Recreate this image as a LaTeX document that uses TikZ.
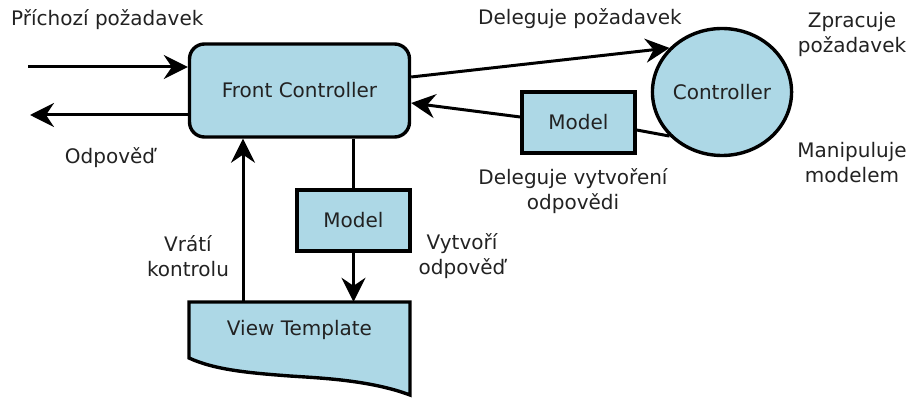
\documentclass[tikz,border=0pt]{standalone}
\usepackage{fontspec}
\setmainfont{DejaVu Sans}
\usetikzlibrary{arrows.meta,shapes.geometric}
\definecolor{boxfill}{HTML}{ADD8E6}
\definecolor{txt}{HTML}{222222}
\tikzset{
  every node/.style={font=\fontsize{20}{25}\selectfont, text=txt},
  box/.style={draw=black, line width=3.4pt, fill=boxfill, inner sep=0pt},
  lbl/.style={align=center, inner sep=0pt},
  arr/.style={line width=3pt, -{Stealth[length=24pt,width=24pt,inset=8pt]}},
  ln/.style={line width=3pt},
}
\begin{document}
\begin{tikzpicture}[x=1pt,y=-1pt]
\useasboundingbox (0,0) rectangle (910,398);
% nodes
\node[box, rounded corners=15pt, minimum width=220pt, minimum height=93pt] (fc) at (299.5,90.5) {Front Controller};
\node[box, ellipse, minimum width=137pt, minimum height=127pt] (ctrl) at (722,92) {Controller};
\node[box, minimum width=113pt, minimum height=61pt] (m1) at (578.5,122.5) {Model};
\node[box, minimum width=113pt, minimum height=61pt] (m2) at (353.5,220.5) {Model};
% view template shape
\draw[line width=3.4pt, fill=boxfill, line join=miter]
  (189,302) -- (410,302) -- (410,395)
  .. controls (370,380) and (320,378) .. (290,376)
  .. controls (250,373) and (215,370) .. (189,358) -- cycle;
\node[inner sep=0pt, minimum width=221pt, minimum height=56pt] (vt) at (299.5,330) {View Template};
% coordinates
\coordinate (in) at (28,67);
\coordinate (out) at (30,115);
\coordinate (ux) at (243,0);
\coordinate (d1) at (0,77);
\coordinate (d2) at (0,117);
\coordinate (d3) at (0,103);
\coordinate (d4) at (0,130);
% connectors
\draw[arr] (in) -- (in -| fc.west);
\draw[arr] (fc.west |- out) -- (out);
\draw[arr] (vt.north -| ux) -- (fc.south -| ux);
\draw[ln] (fc.south -| m2.north) -- (m2.north);
\draw[arr] (m2.south) -- (vt.north -| m2.south);
\draw[arr] (fc.east |- d1) -- (ctrl.140);
\draw[arr] (m1.west |- d2) -- (fc.east |- d3);
\draw[ln] (m1.east |- d4) -- (ctrl.220);
% labels
\node[lbl, anchor=west] (l1) at (11,20) {Příchozí požadavek};
\node[lbl] (l2) at (110,158) {Odpověď};
\node[lbl] (l3) at (580,19) {Deleguje požadavek};
\node[lbl] (l4) at (852,34) {Zpracuje\\požadavek};
\node[lbl] (l5) at (852,163) {Manipuluje\\modelem};
\node[lbl] (l6) at (573,191) {Deleguje vytvoření\\odpovědi};
\node[lbl] (l7) at (188,256) {Vrátí\\kontrolu};
\node[lbl] (l8) at (462,256) {Vytvoří\\odpověď};
\end{tikzpicture}
\end{document}
